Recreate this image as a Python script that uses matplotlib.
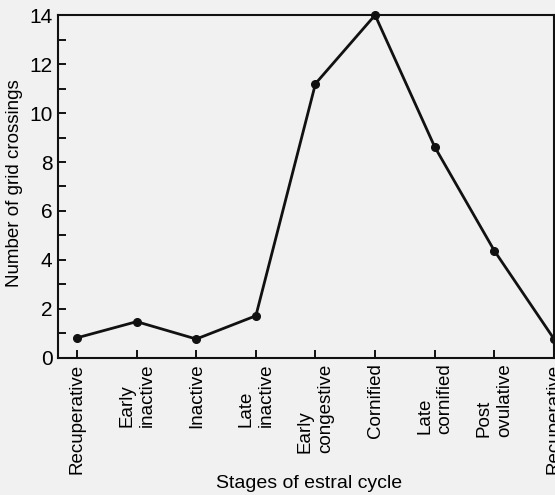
import matplotlib
matplotlib.use("Agg")
import matplotlib.pyplot as plt
from matplotlib.ticker import MultipleLocator

stages = ["Recuperative", "Early\ninactive", "Inactive", "Late\ninactive",
          "Early\ncongestive", "Cornified", "Late\ncornified", "Post\novulative",
          "Recuperative"]
crossings = [0.82, 1.48, 0.77, 1.72, 11.2, 14.0, 8.62, 4.38, 0.78]

plt.rcParams['font.family'] = ['Liberation Sans', 'DejaVu Sans']
bg = '#f1f1f1'

fig = plt.figure(figsize=(5.55, 4.95), dpi=100, facecolor=bg)
ax = fig.add_axes([0.1045, 0.277, 0.8935, 0.6925], facecolor=bg)

x = list(range(len(stages)))
ax.plot(x, crossings, '-o', color='#111111', lw=2.0, ms=5.5, clip_on=False, zorder=3)

ax.set_xlim(-0.32, 8)
ax.set_ylim(0, 14)
ax.yaxis.set_major_locator(MultipleLocator(2))
ax.yaxis.set_minor_locator(MultipleLocator(1))
ax.set_xticks(x)
ax.set_xticklabels(stages, rotation=90, va='top', ha='center',
                   multialignment='left', fontsize=13.5, linespacing=1.25)
ax.tick_params(axis='both', which='both', direction='in', width=1.4, color='#111111')
ax.tick_params(axis='both', which='major', length=6)
ax.tick_params(axis='y', which='minor', length=6)
ax.tick_params(axis='y', labelsize=15, pad=4)
ax.tick_params(axis='x', pad=4)

for s in ax.spines.values():
    s.set_linewidth(1.5)
    s.set_color('#111111')

ax.set_ylabel("Number of grid crossings", fontsize=13.5, va='center')
ax.yaxis.set_label_coords(-0.088, 0.51)
ax.set_xlabel("Stages of estral cycle", fontsize=14, va='center')
ax.xaxis.set_label_coords(0.506, -0.365)

fig.savefig("out.png", dpi=100, facecolor=bg)
